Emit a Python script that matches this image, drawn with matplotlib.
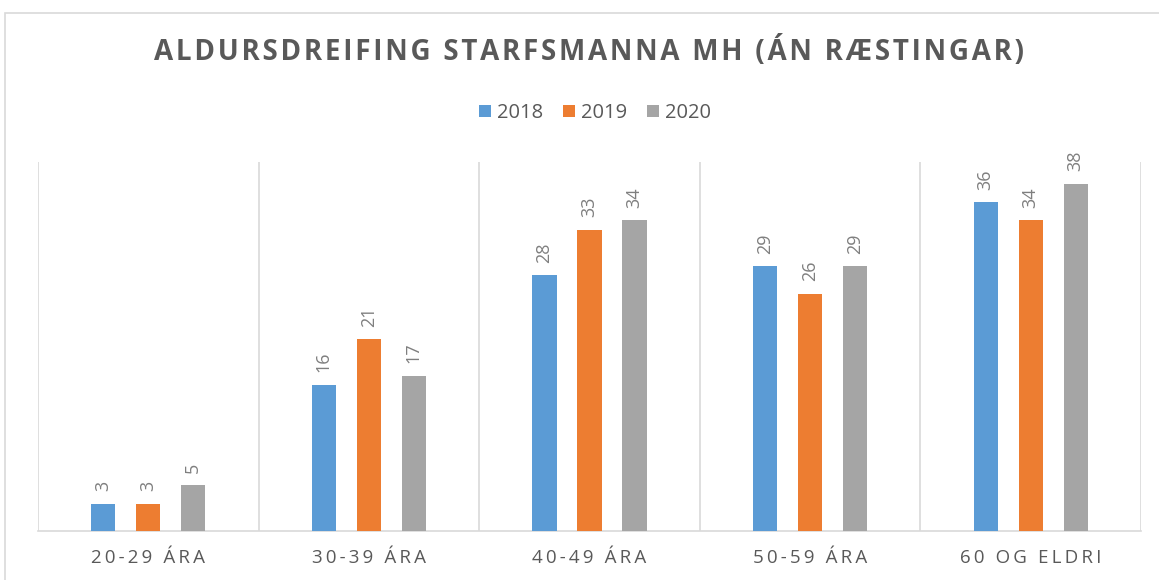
import numpy as np
import matplotlib.pyplot as plt
from matplotlib.patches import Rectangle

categories = ["20-29 ÁRA", "30-39 ÁRA", "40-49 ÁRA", "50-59 ÁRA", "60 OG ELDRI"]
years = ["2018", "2019", "2020"]
v2018 = [3, 16, 28, 29, 36]
v2019 = [3, 21, 33, 26, 34]
v2020 = [5, 17, 34, 29, 38]
colors = ["#5B9BD5", "#ED7D31", "#A5A5A5"]

plt.rcParams['font.family'] = ['Open Sans', 'DejaVu Sans']


def spaced(s, sep="\u2009"):
    return sep.join(s)


fig = plt.figure(figsize=(11.59, 5.8), dpi=100)
ax = fig.add_axes([38 / 1159, 49 / 580, 1103 / 1159, 369 / 580])

# outer chart border
fig.patches.append(Rectangle((4.5 / 1159, -0.1), 1.2, 1.1 - 12.5 / 580,
                             transform=fig.transFigure, fill=False,
                             edgecolor="#d9d9d9", linewidth=1.2))

x = np.arange(len(categories))
offset = 0.204
width = 0.109
series = [v2018, v2019, v2020]
for i, (vals, c, lab) in enumerate(zip(series, colors, years)):
    bars = ax.bar(x + (i - 1) * offset, vals, width, color=c, label=lab, zorder=3)
    for b, v in zip(bars, vals):
        ax.annotate(str(v), (b.get_x() + b.get_width() / 2, b.get_height()),
                    xytext=(0, 9), textcoords="offset points",
                    ha="center", va="bottom", rotation=90,
                    fontsize=13, color="#7f7f7f")

ax.set_xlim(-0.5, len(categories) - 0.5)
ax.set_ylim(0, 40.4)
for xb in np.arange(-0.5, len(categories), 1.0):
    ax.axvline(xb, color="#d9d9d9", linewidth=1.2, zorder=1)

for s in ["top", "right", "left"]:
    ax.spines[s].set_visible(False)
ax.spines["bottom"].set_color("#d9d9d9")
ax.spines["bottom"].set_linewidth(1.2)
ax.set_yticks([])
ax.set_xticks(x)
ax.set_xticklabels([spaced(c) for c in categories], fontsize=13.5, color="#595959")
ax.tick_params(axis="x", length=0, pad=13)

fig.text(589 / 1159, 1 - 52 / 580, spaced("ALDURSDREIFING STARFSMANNA MH (ÁN RÆSTINGAR)", "\u200a"),
         ha="center", va="center", fontsize=20, fontweight="bold", color="#595959")

leg = fig.legend(loc="center", bbox_to_anchor=(595 / 1159, 1 - 113 / 580), ncol=3,
                 frameon=False, fontsize=14.5, handlelength=0.6, handleheight=0.6,
                 handletextpad=0.3, columnspacing=1.0, labelcolor="#595959")

fig.savefig("out.png", dpi=100)
